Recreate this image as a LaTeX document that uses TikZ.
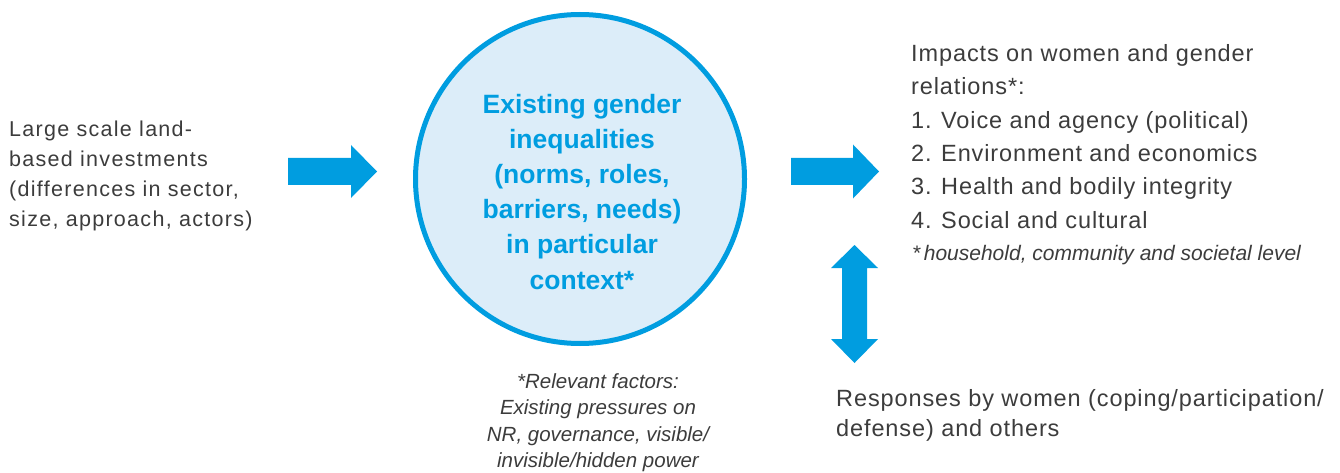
\documentclass[tikz,border=0pt]{standalone}
\usepackage{fontspec}
\setmainfont{Liberation Sans}
\newfontfamily\lightfont[LetterSpace=6]{Liberation Sans}
\newfontfamily\lightfontb[LetterSpace=3.8]{Liberation Sans}
\definecolor{ablue}{RGB}{0,157,224}
\definecolor{cfill}{RGB}{220,237,249}
\definecolor{tgray}{RGB}{60,60,60}
\tikzset{
  blockarrow/.style={fill=ablue},
  bodytext/.style={inner sep=0pt, text=tgray, align=left},
  notetext/.style={inner sep=0pt, text=tgray},
  ctxcircle/.style={circle, draw=ablue, line width=5pt, fill=cfill, minimum size=329pt, inner sep=0pt},
  ctxtext/.style={inner sep=0pt, text=ablue, align=center, font=\bfseries\fontsize{26.5}{35.2}\selectfont}
}
\begin{document}
\begin{tikzpicture}[x=1pt,y=-1pt]
\useasboundingbox (0,0) rectangle (1340,473);
% central circle
\node[ctxcircle] (ctx) at (580,179) {};
\node[ctxtext, anchor=north] (ctxt) at (582,93.7) {Existing gender\\inequalities\\(norms, roles,\\barriers, needs)\\in particular\\context*};
% left text
\node[bodytext, anchor=north west, font=\lightfont\fontsize{21.5}{30}\selectfont] (inv) at (9,121)
  {Large scale land-\\based investments\\(differences in sector,\\size, approach, actors)};
% right text
\node[bodytext, anchor=north west, font=\lightfontb\fontsize{23.5}{33.4}\selectfont] (imp) at (911,44)
  {Impacts on women and gender\\relations*:\\
   \makebox[30pt][l]{1.}Voice and agency (political)\\
   \makebox[30pt][l]{2.}Environment and economics\\
   \makebox[30pt][l]{3.}Health and bodily integrity\\
   \makebox[30pt][l]{4.}Social and cultural};
\node[notetext, anchor=base west, font=\itshape\fontsize{21}{26}\selectfont] (lvl) at (912,260)
  {*\,household, community and societal level};
% responses
\node[bodytext, anchor=north west, font=\lightfontb\fontsize{23.5}{30}\selectfont] (resp) at (836,389.5)
  {Responses by women (coping/participation/\\defense) and others};
% bottom note
\node[notetext, align=center, anchor=north, font=\itshape\fontsize{20.5}{26.5}\selectfont] (fac) at (598,373)
  {*Relevant factors:\\Existing pressures on\\NR, governance, visible/\\invisible/hidden power};
% arrows
\coordinate (a1) at (288,171.5);
\coordinate (a2) at (791,171.5);
\coordinate (a3) at (854.5,245);
\fill[blockarrow] (a1) ++(0,-13.5) -- ++(63,0) -- ++(0,-13) -- ++(26,26.5) -- ++(-26,26.5) -- ++(0,-13) -- ++(-63,0) -- cycle;
\fill[blockarrow] (a2) ++(0,-13.5) -- ++(62,0) -- ++(0,-13.5) -- ++(26,27) -- ++(-26,27) -- ++(0,-13.5) -- ++(-62,0) -- cycle;
\fill[blockarrow] (a3) -- ++(23.5,23) -- ++(-11,0) -- ++(0,71) -- ++(11,0) -- ++(-23.5,24) -- ++(-23.5,-24) -- ++(11,0) -- ++(0,-71) -- ++(-11,0) -- cycle;
\end{tikzpicture}
\end{document}
